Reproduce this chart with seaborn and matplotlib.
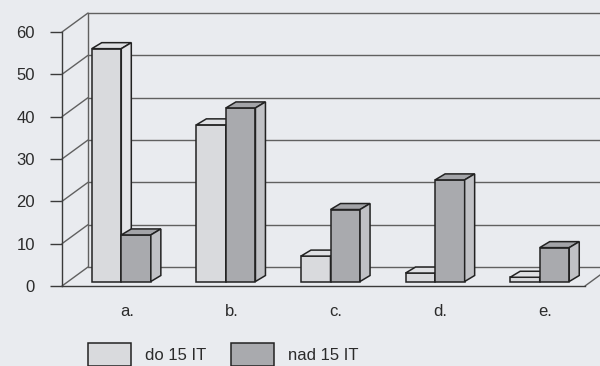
import numpy as np
import pandas as pd
import matplotlib
matplotlib.use("Agg")
import matplotlib.pyplot as plt
import seaborn as sns
from matplotlib.transforms import ScaledTranslation, IdentityTransform
from matplotlib.patches import Polygon, Patch
from matplotlib.lines import Line2D

# --- data -------------------------------------------------------------
categories = ["a.", "b.", "c.", "d.", "e."]
series_names = ["do 15 IT", "nad 15 IT"]
do_15 = [55, 37, 6, 2, 1]
nad_15 = [11, 41, 17, 24, 8]
y_ticks = [0, 10, 20, 30, 40, 50, 60]

# --- styling ----------------------------------------------------------
W, H, DPI = 600, 366, 100
BG = "#e9ebef"
FACE = ["#d9dadd", "#a9aaae"]       # front faces
TOP = ["#dfe0e3", "#a3a4a8"]        # top faces
SIDE = ["#e3e4e7", "#c0c1c5"]       # right-hand side faces
EDGE = "#222222"
GRID = "#606060"
TEXT = "#2b2b2b"

DEPTH_FULL = np.array([26.0, 19.0])   # front plane -> back wall (px)
BAR_FRONT = np.array([7.0, 4.5])      # front plane -> bar front faces (px)
BAR_DEPTH = np.array([10.0, 6.0])     # thickness of a bar (px)

sns.set_theme(style="white")
plt.rcParams["font.family"] = ["Liberation Sans", "DejaVu Sans"]

fig = plt.figure(figsize=(W / DPI, H / DPI), dpi=DPI, facecolor=BG)
x_left, x_right, y_zero, y_top = 62, 585, 286, 32
ax = fig.add_axes([x_left / W, 1 - y_zero / H,
                   (x_right - x_left) / W, (y_zero - y_top) / H])
ax.set_facecolor("none")

df = pd.DataFrame({
    "kategorie": categories * 2,
    "skupina": [series_names[0]] * len(categories) + [series_names[1]] * len(categories),
    "hodnota": do_15 + nad_15,
})

sns.barplot(data=df, x="kategorie", y="hodnota", hue="skupina",
            palette=FACE, saturation=1, width=0.565, gap=0,
            edgecolor=EDGE, linewidth=1.1, legend=False, ax=ax)

ax.set_xlim(-0.5, len(categories) - 0.5)
ax.set_ylim(0, 60)


def disp(x, v, offset=(0.0, 0.0)):
    return ax.transData.transform((x, v)) + np.asarray(offset)


# --- box: back wall, left wall, floor -----------------------------------
xl, xr = -0.5, len(categories) - 0.5
segments = []
for v in y_ticks:
    segments.append((disp(xl, v, DEPTH_FULL), disp(xr, v, DEPTH_FULL)))  # back-wall grid
    segments.append((disp(xl, v), disp(xl, v, DEPTH_FULL)))              # left-wall diagonals
segments.append((disp(xl, 0, DEPTH_FULL), disp(xl, 60, DEPTH_FULL)))      # back-wall left edge
segments.append((disp(xr, 0), disp(xr, 0, DEPTH_FULL)))                  # floor right edge
for a, b in segments:
    ax.add_line(Line2D([a[0], b[0]], [a[1], b[1]], transform=IdentityTransform(),
                       color=GRID, lw=1.0, clip_on=False, zorder=1))

# --- bars: shift front faces into their depth plane, add top and side --
bar_shift = ScaledTranslation(BAR_FRONT[0] / DPI, BAR_FRONT[1] / DPI, fig.dpi_scale_trans)
bars = sorted([p for p in ax.patches], key=lambda p: p.get_x())
n = len(categories)
for i, p in enumerate(bars):
    series = 0 if p.get_facecolor()[0] > 0.75 else 1
    p.set_transform(ax.transData + bar_shift)
    p.set_zorder(3 + 3 * i)
    x0, w, h = p.get_x(), p.get_width(), p.get_height()
    tl = disp(x0, h, BAR_FRONT)
    tr = disp(x0 + w, h, BAR_FRONT)
    br = disp(x0 + w, 0, BAR_FRONT)
    top = Polygon([tl, tr, tr + BAR_DEPTH, tl + BAR_DEPTH], closed=True,
                  transform=IdentityTransform(), facecolor=TOP[series],
                  edgecolor=EDGE, lw=1.1, clip_on=False, zorder=4 + 3 * i)
    side = Polygon([tr, br, br + BAR_DEPTH, tr + BAR_DEPTH], closed=True,
                   transform=IdentityTransform(), facecolor=SIDE[series],
                   edgecolor=EDGE, lw=1.1, clip_on=False, zorder=5 + 3 * i)
    ax.add_patch(top)
    ax.add_patch(side)

ax.set_xlim(-0.5, len(categories) - 0.5)
ax.set_ylim(0, 60)

# --- axes, ticks, labels ------------------------------------------------
for s in ["top", "right"]:
    ax.spines[s].set_visible(False)
for s in ["left", "bottom"]:
    ax.spines[s].set_color("#3a3a3a")
    ax.spines[s].set_linewidth(1.0)

ax.set_yticks(y_ticks)
ax.set_yticklabels([str(t) for t in y_ticks])
ax.set_xticks(np.arange(n) + 0.12)
ax.set_xticklabels(categories)
ax.tick_params(axis="y", length=8.6, width=1.0, color="#3a3a3a", pad=10.8,
               labelsize=12, labelcolor=TEXT, left=True, direction="out")
ax.tick_params(axis="x", length=0, pad=13, labelsize=12, labelcolor=TEXT)
ax.set_xlabel("")
ax.set_ylabel("")

handles = [Patch(facecolor=FACE[i], edgecolor=EDGE, linewidth=1.1, label=series_names[i])
           for i in range(2)]
fig.legend(handles=handles, loc="upper left", bbox_to_anchor=(88 / W, 1 - 343 / H),
           ncol=2, frameon=False, fontsize=12, labelcolor=TEXT,
           handlelength=2.6, handleheight=1.75, handletextpad=0.8,
           columnspacing=1.5, borderpad=0, borderaxespad=0)

fig.savefig("out.png", dpi=DPI, facecolor=BG)
